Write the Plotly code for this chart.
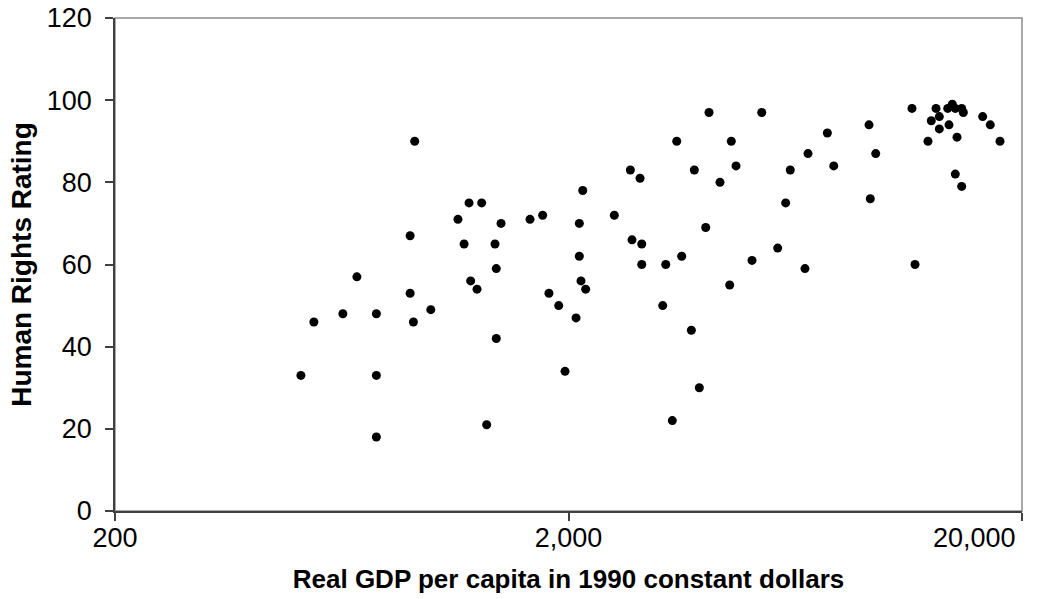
import plotly.graph_objects as go

# Real GDP per capita (1990 constant dollars)
gdp = [
    916, 1207, 1287, 1141, 1420, 1645, 1754, 895, 1177, 1377,
    1386, 1217, 1257, 683, 895, 994, 910, 549, 636, 754,
    514, 754, 754, 1320, 1386, 1811, 1903, 2078, 1965,
    4082, 5335, 3465, 4571, 6748, 2738, 2876, 3789, 4682, 6167,
    4316, 6024, 2150, 2524, 2113, 2761, 2901, 4014, 2113, 2901,
    3277, 3553, 5078, 5785, 6645, 4534, 2131, 2182, 3227, 3732,
    3886, 3388,
    11440, 12926, 13718, 14040, 14255, 14724, 14847, 13144, 12619, 13806,
    13144, 16380, 17026, 17886, 14379, 12408, 14255, 14724, 9198, 7444,
    9516, 7690, 9258, 11618,
]
# Human rights rating
rating = [
    90, 75, 75, 71, 70, 71, 72, 67, 65, 65,
    59, 56, 54, 57, 53, 49, 46, 46, 48, 48,
    33, 33, 18, 21, 42, 53, 50, 47, 34,
    97, 97, 90, 90, 87, 83, 81, 83, 84, 83,
    80, 75, 78, 72, 70, 66, 65, 69, 62, 60,
    60, 62, 61, 64, 59, 55, 56, 54, 50, 44,
    30, 22,
    98, 98, 98, 99, 98, 98, 97, 96, 95, 94,
    93, 96, 94, 90, 91, 90, 82, 79, 94, 92,
    87, 84, 76, 60,
]

x_tickvals = [200, 2000, 20000]
x_ticktext = ["200", "2,000", "20,000"]
y_tickvals = [0, 20, 40, 60, 80, 100, 120]

FONT = "Liberation Sans, Arial, sans-serif"

fig = go.Figure()
fig.add_trace(go.Scatter(
    x=gdp, y=rating, mode="markers",
    marker=dict(color="black", size=9, line=dict(width=0)),
    showlegend=False, hoverinfo="x+y",
))

fig.add_shape(type="rect", xref="paper", yref="paper", x0=0, y0=0, x1=1, y1=1,
              line=dict(color="#8c8c8c", width=1.5), layer="below")

# last x tick label is pulled inside the chart edge, as in the reference
fig.add_annotation(xref="paper", yref="paper", x=1, y=0,
                   xanchor="right", yanchor="middle", xshift=-4, yshift=-27,
                   text=x_ticktext[-1], showarrow=False,
                   font=dict(family=FONT, size=27, color="black"))

fig.update_layout(
    width=1037, height=599,
    margin=dict(l=115, r=15, t=18, b=88, autoexpand=False),
    paper_bgcolor="white", plot_bgcolor="white",
    font=dict(family=FONT, size=25, color="black"),
    xaxis=dict(
        type="log", range=[2.30103, 4.30103], automargin=False,
        tickvals=x_tickvals, ticktext=x_ticktext[:-1] + [""],
        showgrid=False, zeroline=False,
        showline=True, linecolor="#404040", linewidth=1.5,
        ticks="outside", ticklen=8, tickcolor="#404040", tickwidth=1.5,
        tickfont=dict(family=FONT, size=27, color="black"),
        ticklabelstandoff=-6,
        title=dict(text="<b>Real GDP per capita in 1990 constant dollars</b>",
                   font=dict(family=FONT, size=26, color="black"), standoff=18),
    ),
    yaxis=dict(
        range=[0, 120], tickvals=y_tickvals, automargin=False,
        showgrid=False, zeroline=False,
        showline=True, linecolor="#404040", linewidth=1.5,
        ticks="outside", ticklen=8, tickcolor="#404040", tickwidth=1.5,
        tickfont=dict(family=FONT, size=27, color="black"),
        ticklabelstandoff=8,
        title=dict(text="<b>Human Rights Rating</b>",
                   font=dict(family=FONT, size=28, color="black"), standoff=7),
    ),
)

fig.write_html("out.html", config={"displayModeBar": False},
               post_script="document.body.style.margin='0';")
